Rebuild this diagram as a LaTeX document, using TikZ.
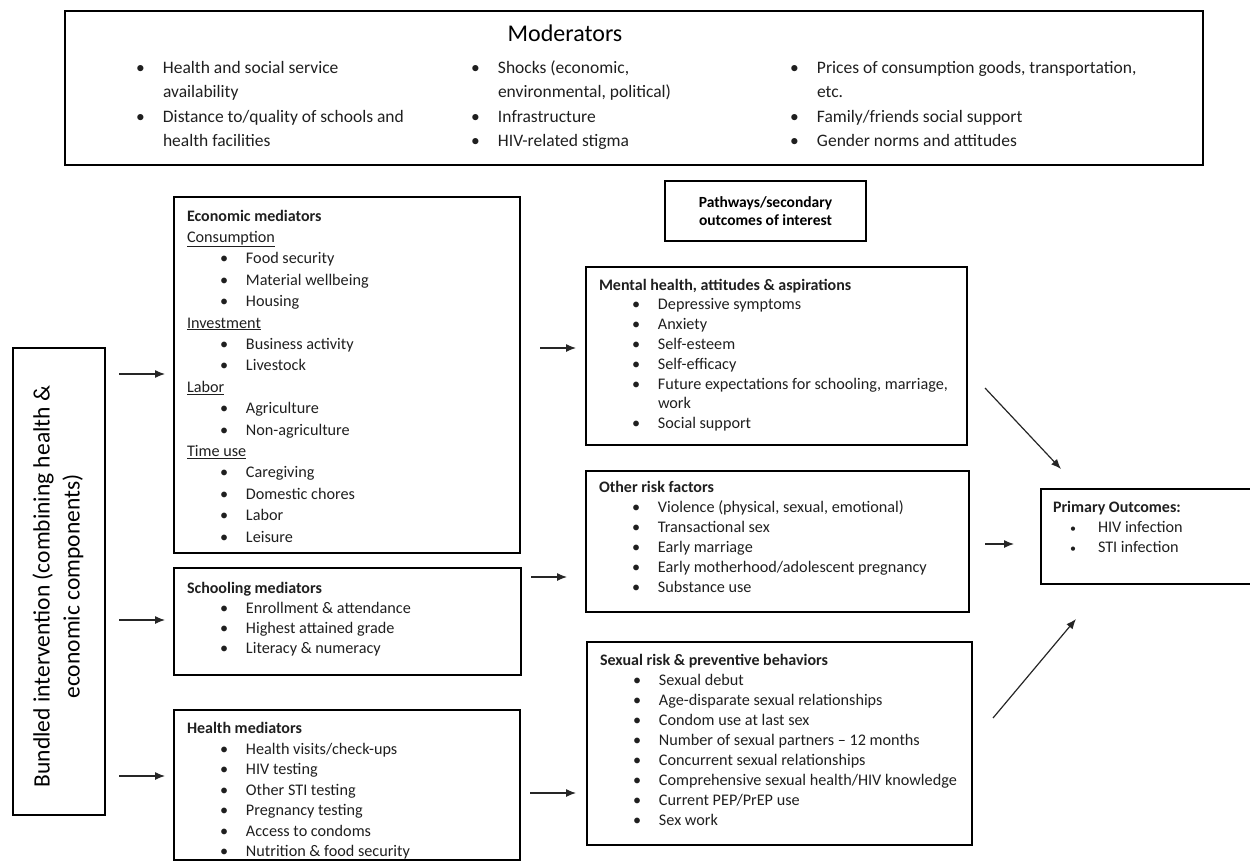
\documentclass[tikz,border=0pt]{standalone}
\usepackage{fontspec}
\setmainfont{Carlito}
\usetikzlibrary{arrows.meta}
\newcommand{\bi}{\hspace*{33pt}\makebox[26pt][l]{\textbullet}}
\newcommand{\bc}{\hspace*{59pt}}
\newcommand{\mb}{\makebox[27pt][l]{\textbullet}}
\newcommand{\mc}{\hspace*{27pt}}
\newcommand{\hdr}[1]{{\bfseries\fontsize{16}{20}\selectfont\strut #1}}
\begin{document}
\begin{tikzpicture}[x=1pt,y=-1pt,
  box/.style={draw, line width=2pt, anchor=north west, inner sep=0pt, outer sep=0pt},
  txt/.style={anchor=north west, inner sep=0pt, outer sep=0pt, align=left, text=black!88},
  arr/.style={line width=1.2pt, black!85, -{Latex[length=10pt,width=8pt]}}]
\useasboundingbox (0,0) rectangle (1250,862);

% ---------- boxes ----------
\node[box, minimum width=1138pt, minimum height=154pt] (mod) at (65,11) {};
\node[box, minimum width=92pt, minimum height=467pt] (bund) at (13,348) {};
\node[box, minimum width=346pt, minimum height=356pt] (econ) at (174,197) {};
\node[box, minimum width=347pt, minimum height=107pt] (school) at (174,568) {};
\node[box, minimum width=346pt, minimum height=150pt] (health) at (174,710) {};
\node[box, minimum width=201pt, minimum height=60pt] (path) at (665,181) {};
\node[box, minimum width=381pt, minimum height=178pt] (mental) at (586,267) {};
\node[box, minimum width=383pt, minimum height=141pt] (other) at (586,471) {};
\node[box, minimum width=385pt, minimum height=203pt] (sexual) at (587,642) {};
\node[box, minimum width=230pt, minimum height=95pt] (prim) at (1041,489) {};

% ---------- moderators ----------
\node[anchor=base, inner sep=0pt, font=\fontsize{24}{28}\selectfont] (modT) at (565,41) {Moderators};
\node[txt, font=\fontsize{17.5}{24.5}\selectfont] (modA) at (136,55.9) {\strut\mb Health and social service\\ \mc availability\\ \mb Distance to/quality of schools and\\ \mc health facilities};
\node[txt, font=\fontsize{17.5}{24.5}\selectfont] (modB) at (471,55.9) {\strut\mb Shocks (economic,\\ \mc environmental, political)\\ \mb Infrastructure\\ \mb HIV-related stigma};
\node[txt, font=\fontsize{17.5}{24.5}\selectfont] (modC) at (790,55.9) {\strut\mb Prices of consumption goods, transportation,\\ \mc etc.\\ \mb Family/friends social support\\ \mb Gender norms and attitudes};

% ---------- bundled intervention ----------
\node[rotate=90, align=center, inner sep=0pt, font=\fontsize{23.5}{30}\selectfont] (bundT) at ([xshift=-1pt,yshift=-5pt]bund.center) {Bundled intervention (combining health \&\\ economic components)};

% ---------- pathways ----------
\node[align=center, inner sep=0pt, font=\bfseries\fontsize{15.5}{18}\selectfont] (pathT) at (path.center) {Pathways/secondary\\ outcomes of interest};

% ---------- economic ----------
\node[txt, font=\fontsize{16.2}{21.4}\selectfont] (econT) at (187,207) {\hdr{Economic mediators}\\
\underline{Consumption}\\ \bi Food security\\ \bi Material wellbeing\\ \bi Housing\\
\underline{Investment}\\ \bi Business activity\\ \bi Livestock\\
\underline{Labor}\\ \bi Agriculture\\ \bi Non-agriculture\\
\underline{Time use}\\ \bi Caregiving\\ \bi Domestic chores\\ \bi Labor\\ \bi Leisure};

% ---------- schooling ----------
\node[txt, font=\fontsize{16.2}{20}\selectfont] (schoolT) at (187,579) {\hdr{Schooling mediators}\\
\bi Enrollment \& attendance\\ \bi Highest attained grade\\ \bi Literacy \& numeracy};

% ---------- health ----------
\node[txt, font=\fontsize{16.2}{20.5}\selectfont] (healthT) at (187,719.5) {\hdr{Health mediators}\\
\bi Health visits/check-ups\\ \bi HIV testing\\ \bi Other STI testing\\ \bi Pregnancy testing\\ \bi Access to condoms\\ \bi Nutrition \& food security};

% ---------- mental ----------
\node[txt, font=\fontsize{16.2}{19.8}\selectfont] (mentalT) at (599,276.1) {\hdr{Mental health, attitudes \& aspirations}\\
\bi Depressive symptoms\\ \bi Anxiety\\ \bi Self-esteem\\ \bi Self-efficacy\\ \bi Future expectations for schooling, marriage,\\ \bc work\\ \bi Social support};

% ---------- other risk ----------
\node[txt, font=\fontsize{16.2}{20}\selectfont] (otherT) at (599,478) {\hdr{Other risk factors}\\
\bi Violence (physical, sexual, emotional)\\ \bi Transactional sex\\ \bi Early marriage\\ \bi Early motherhood/adolescent pregnancy\\ \bi Substance use};

% ---------- sexual ----------
\node[txt, font=\fontsize{16.2}{20}\selectfont] (sexualT) at (600,651) {\hdr{Sexual risk \& preventive behaviors}\\
\bi Sexual debut\\ \bi Age-disparate sexual relationships\\ \bi Condom use at last sex\\ \bi Number of sexual partners -- 12 months\\ \bi Concurrent sexual relationships\\ \bi Comprehensive sexual health/HIV knowledge\\ \bi Current PEP/PrEP use\\ \bi Sex work};

% ---------- primary ----------
\node[txt, font=\fontsize{16.2}{20}\selectfont] (primT) at (1053,498) {\hdr{Primary Outcomes:}\\
\hspace*{17pt}\makebox[28pt][l]{\large\textbullet}HIV infection\\ \hspace*{17pt}\makebox[28pt][l]{\large\textbullet}STI infection};

% ---------- arrows ----------
\coordinate (a1s) at (119,374); \coordinate (a1e) at (165,374);
\coordinate (a2s) at (119,620); \coordinate (a2e) at (165,620);
\coordinate (a3s) at (119,776); \coordinate (a3e) at (165,776);
\coordinate (a4s) at (540,348); \coordinate (a4e) at (576,348);
\coordinate (a5s) at (531,577); \coordinate (a5e) at (567,577);
\coordinate (a6s) at (530,793); \coordinate (a6e) at (576,793);
\coordinate (a7s) at (985,388); \coordinate (a7e) at (1061,469);
\coordinate (a8s) at (985,544); \coordinate (a8e) at (1014,544);
\coordinate (a9s) at (993,718); \coordinate (a9e) at (1076,619);
\foreach \i in {1,...,9} {\draw[arr] (a\i s) -- (a\i e);}
\end{tikzpicture}
\end{document}
